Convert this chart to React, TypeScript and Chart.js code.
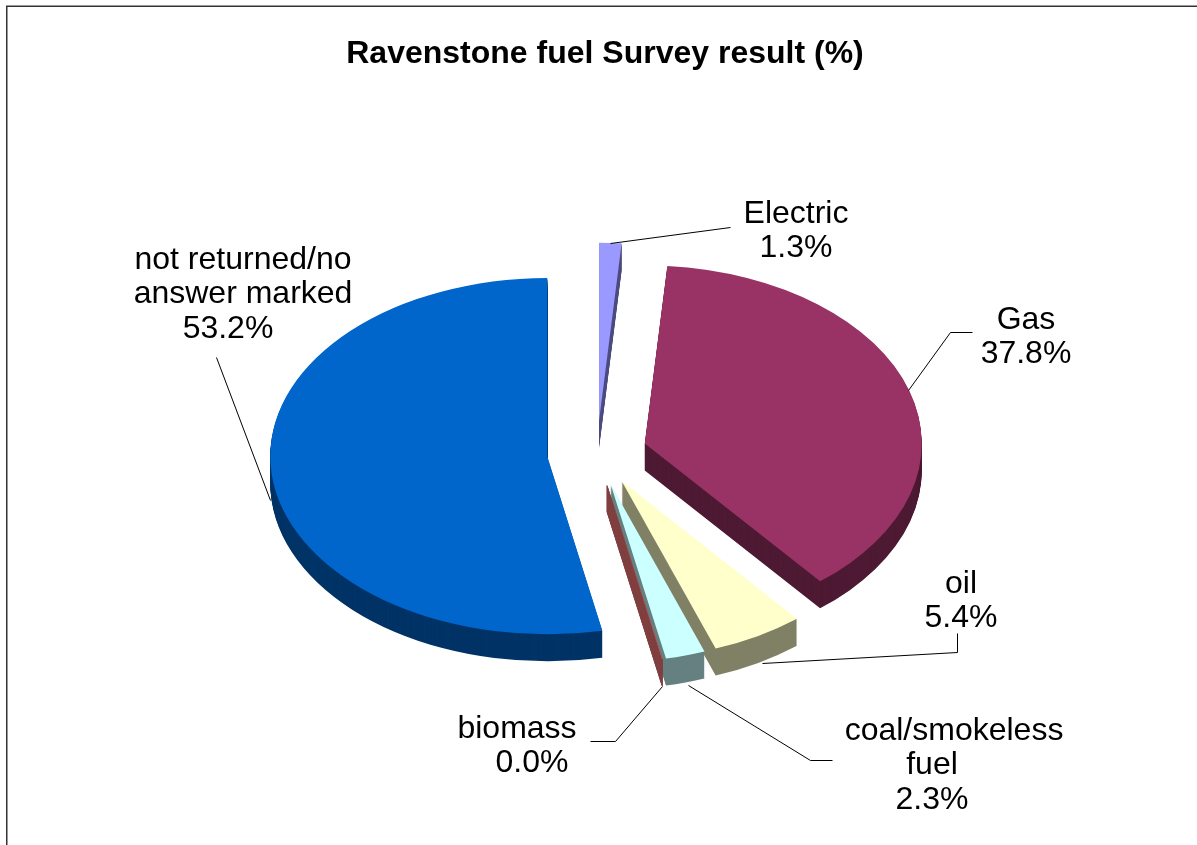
import React, { useEffect, useRef } from "react";
import { Chart, registerables } from "chart.js";

Chart.register(...registerables);

const titleText = "Ravenstone fuel Survey result (%)";
const categories = ["Electric", "Gas", "oil", "coal/smokeless fuel", "biomass", "not returned/no answer marked"];
const shares = [1.3, 37.8, 5.4, 2.3, 0.02, 53.2];
const faceColors = ["#9999ff", "#993366", "#ffffcc", "#ccffff", "#ff8080", "#0066cc"];
const wallColors = ["#4d4d80", "#4d1933", "#808066", "#668080", "#804040", "#003366"];

// Wrapped lines for each label, in category order; the percentage is appended below them.
const labelLines = [
  ["Electric"],
  ["Gas"],
  ["oil"],
  ["coal/smokeless", "fuel"],
  ["biomass"],
  ["not returned/no", "answer marked"],
];

const FONT_FAMILY = '"Liberation Sans", Arial, sans-serif';
const PIE = { x: 597, y: 453, radius: 277, tilt: 0.643, depth: 27, explode: 50 };

// Anchor of each label block and its leader polyline, in category order.
const labelLayout = [
  { x: 796, y: 214, shift: [0, 0], leader: [[730, 227], [610, 243]] },
  { x: 1026, y: 320, shift: [0, 0], leader: [[972, 332], [950, 332], [908, 390]] },
  { x: 961, y: 584, shift: [0, 0], leader: [[957, 633], [957, 652], [762, 663]] },
  { x: 954, y: 731, shift: [0, -22, -22], leader: [[832, 760], [810, 760], [688, 685]] },
  { x: 532, y: 729, shift: [-15, 0], leader: [[590, 741], [615, 741], [662, 686]] },
  { x: 243, y: 260, shift: [0, 0, -15], leader: [[216, 357], [270, 500]] },
];
const LINE_STEP = 34.5;

// Places one arc on the tilted, exploded pie and draws it in the given colour.
function drawArc(ctx: CanvasRenderingContext2D, arc: any, color: string, drop: number, edge: number) {
  const mid = (arc.startAngle + arc.endAngle) / 2;
  ctx.save();
  ctx.translate(
    PIE.x + Math.cos(mid) * PIE.explode,
    PIE.y + Math.sin(mid) * PIE.explode * PIE.tilt + drop,
  );
  ctx.scale(1, PIE.tilt);
  ctx.translate(-arc.x, -arc.y);
  const painted = Object.create(arc);
  painted.options = { ...arc.options, backgroundColor: color, borderColor: color, borderWidth: edge };
  arc.draw.call(painted, ctx);
  ctx.restore();
}

const tiltedPie = {
  id: "tiltedPie",
  beforeDatasetDraw(chart: any, args: any) {
    const ctx = chart.ctx;
    const arcs = args.meta.data;
    for (let drop = PIE.depth; drop >= 1; drop--) {
      // A near-empty slice has no area to fill, so its wall is stroked instead.
      arcs.forEach((arc: any, i: number) => drawArc(ctx, arc, wallColors[i], drop, shares[i] < 0.1 ? 1 : 0));
    }
    arcs.forEach((arc: any, i: number) => drawArc(ctx, arc, faceColors[i], 0, 0));
    return false;
  },
};

const sliceLabels = {
  id: "sliceLabels",
  afterDraw(chart: any) {
    const ctx = chart.ctx;
    ctx.save();
    // Frame around the chart: only the top and left edges fall on the page.
    ctx.strokeStyle = "#333333";
    ctx.lineWidth = 1.5;
    ctx.beginPath();
    ctx.moveTo(6.75, 845);
    ctx.lineTo(6.75, 6.25);
    ctx.lineTo(1197, 6.25);
    ctx.stroke();

    ctx.strokeStyle = "#000000";
    ctx.lineWidth = 1;
    ctx.font = `32px ${FONT_FAMILY}`;
    ctx.fillStyle = "#000000";
    ctx.textAlign = "center";
    ctx.textBaseline = "middle";
    categories.forEach((_, i) => {
      const layout = labelLayout[i];
      ctx.beginPath();
      layout.leader.forEach(([x, y], k) => (k ? ctx.lineTo(x + 0.5, y + 0.5) : ctx.moveTo(x + 0.5, y + 0.5)));
      ctx.stroke();
      const lines = [...labelLines[i], `${shares[i].toFixed(1)}%`];
      lines.forEach((line, k) => {
        ctx.fillText(line, layout.x + layout.shift[k], layout.y + k * LINE_STEP);
      });
    });
    ctx.restore();
  },
};

export default function App() {
  const ref = useRef<HTMLCanvasElement>(null);
  useEffect(() => {
    document.body.style.margin = "0";
    document.body.style.background = "#ffffff";
    const chart = new Chart(ref.current!, {
      type: "pie",
      data: {
        labels: categories,
        datasets: [{ data: shares, backgroundColor: faceColors, borderWidth: 0 }],
      },
      options: {
        animation: false,
        responsive: false,
        radius: PIE.radius,
        layout: { padding: { left: 13 } },
        plugins: {
          legend: { display: false },
          tooltip: { enabled: false },
          title: {
            display: true,
            text: titleText,
            color: "#000000",
            font: { family: FONT_FAMILY, size: 32, weight: "bold" },
            padding: { top: 35, bottom: 20 },
          },
        },
      } as any,
      plugins: [tiltedPie, sliceLabels],
    });
    return () => chart.destroy();
  }, []);
  return <canvas ref={ref} width={1197} height={845} style={{ display: "block" }} />;
}
